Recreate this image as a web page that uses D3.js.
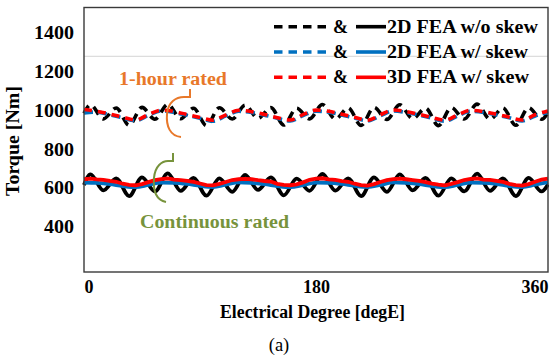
<!DOCTYPE html>
<html><head><meta charset="utf-8">
<script src="https://cdn.jsdelivr.net/npm/d3@7"></script>
<style>
html,body{margin:0;padding:0;background:#fff;}
svg{display:block;font-family:"Liberation Serif","Times New Roman",serif;}
</style></head>
<body><svg id="c" width="549" height="359"></svg>
<script>
// ---- data ----
const xTicks = [0, 180, 360];
const yTicks = [400, 600, 800, 1000, 1200, 1400];
const refLine = 1280;

// 2D FEA w/o skew (black) sample angles
const degBlack = [0,5,15,25,35,45,55,65,75,85,95,105,115,125,135,145,155,165,175,185,195,205,215,225,235,245,255,265,275,285,295,305,315,325,335,345,355,360];
const blackUpper = [985,1030,957,1013,924,1016,955,1032,958,1012,922,1014,956,1028,960,1015,925,1012,957,1031,956,1013,923,1016,954,1030,958,1012,922,1015,956,1033,955,1013,924,1014,955,990];
const blackLower = [615,670,588,650,558,655,582,675,585,652,560,650,580,668,590,655,562,648,585,672,586,650,558,655,580,670,588,652,560,650,582,674,585,650,558,652,582,618];

// 2D FEA w/ skew (blue), 10 deg steps
const deg10 = d3.range(0, 361, 10);
const blueUpper = [988,992,978,962,948,975,998,990,975,960,945,972,996,990,976,960,946,974,997,991,977,961,947,973,998,990,976,960,945,972,996,990,977,962,946,972,990];
const blueLower = [628,626,620,610,604,616,628,627,621,611,605,617,629,626,620,610,604,615,628,627,621,611,605,616,629,626,620,610,604,616,628,627,621,610,605,617,630];

// 3D FEA w/ skew (red)
const redUpper = [1005,996,982,966,951,979,1002,995,979,964,950,977,1001,994,980,963,951,979,1002,996,981,965,950,978,1003,995,980,964,950,977,1001,994,981,965,951,978,998];
const deg5 = d3.range(0, 361, 5);
const redLower = [645,648,644,642,636,632,622,616,614,620,630,640,
                  646,649,643,641,637,631,623,615,613,621,631,641,
                  645,647,645,640,636,633,621,616,614,619,629,642,
                  648,650,644,642,635,632,622,615,612,620,631,640,
                  646,648,645,641,636,630,622,617,613,621,630,641,
                  647,649,643,642,637,631,621,615,612,620,632,643,648];

const legendItems = [
  {label: "2D FEA w/o skew", color: "#000000", w: 151},
  {label: "2D FEA w/ skew", color: "#0070C0", w: 141},
  {label: "3D FEA w/ skew", color: "#FF0000", w: 142}
];

// ---- chart ----
const svg = d3.select("#c");
const L = 84, R = 548, T = 7.5, B = 272;
const FS = 18;
const x = d3.scaleLinear().domain([0, 360]).range([L, R]);
const y = d3.scaleLinear().domain([166, 1532]).range([B, T]);

const stretch = (sel, w) => sel.attr("textLength", w).attr("lengthAdjust", "spacingAndGlyphs");

// reference gray line
svg.append("line").attr("x1", L).attr("x2", R).attr("y1", y(refLine)).attr("y2", y(refLine))
  .attr("stroke", "#d4d4d4").attr("stroke-width", 1);

const line = d3.line().x(d => x(d[0])).y(d => y(d[1])).curve(d3.curveMonotoneX);
const zip = (a, b) => a.map((v, i) => [v, b[i]]);

const g = svg.append("g");
// upper (dashed)
g.append("path").attr("d", line(zip(degBlack, blackUpper))).attr("fill", "none")
  .attr("stroke", "#000").attr("stroke-width", 3.6).attr("stroke-dasharray", "9,6");
g.append("path").attr("d", line(zip(deg10, blueUpper))).attr("fill", "none")
  .attr("stroke", "#0070C0").attr("stroke-width", 3.6).attr("stroke-dasharray", "9,5");
g.append("path").attr("d", line(zip(deg10, redUpper))).attr("fill", "none")
  .attr("stroke", "#FF0000").attr("stroke-width", 3.6).attr("stroke-dasharray", "8,6");
// lower (solid)
g.append("path").attr("d", line(zip(degBlack, blackLower))).attr("fill", "none")
  .attr("stroke", "#000").attr("stroke-width", 3.8);
g.append("path").attr("d", line(zip(deg10, blueLower))).attr("fill", "none")
  .attr("stroke", "#0070C0").attr("stroke-width", 3.8);
g.append("path").attr("d", d3.line().x(d => x(d[0])).y(d => y(d[1]))(zip(deg5, redLower))).attr("fill", "none")
  .attr("stroke", "#FF0000").attr("stroke-width", 3.8);

// frame
svg.append("rect").attr("x", L).attr("y", T).attr("width", R - L).attr("height", B - T)
  .attr("fill", "none").attr("stroke", "#3a3a3a").attr("stroke-width", 1.4);

// axes
const xa = svg.append("g").attr("transform", `translate(0,${B})`)
  .call(d3.axisBottom(x).tickValues(xTicks).tickSize(0).tickPadding(8).tickFormat(d3.format("d")));
xa.select(".domain").remove();
xa.selectAll("text").attr("font-size", FS).attr("font-weight", "bold").attr("fill", "#000")
  .attr("font-family", "Liberation Serif")
  .attr("text-anchor", (d, i) => i === 0 ? "start" : (i === xTicks.length - 1 ? "end" : "middle"));

const ya = svg.append("g").attr("transform", `translate(${L},0)`)
  .call(d3.axisLeft(y).tickValues(yTicks).tickSize(0).tickPadding(10).tickFormat(d3.format("d")));
ya.select(".domain").remove();
ya.selectAll("text").attr("font-size", FS).attr("font-weight", "bold").attr("fill", "#000")
  .attr("font-family", "Liberation Serif")
  .attr("textLength", d => String(d).length * 10).attr("lengthAdjust", "spacingAndGlyphs");

// axis titles
stretch(svg.append("text").attr("x", 312.5).attr("y", 318).attr("text-anchor", "middle")
  .attr("font-size", FS).attr("font-weight", "bold").text("Electrical Degree [degE]"), 185);
stretch(svg.append("text").attr("transform", "translate(19,141) rotate(-90)").attr("text-anchor", "middle")
  .attr("font-size", FS).attr("font-weight", "bold").text("Torque [Nm]"), 110);
svg.append("text").attr("x", 279).attr("y", 351).attr("text-anchor", "middle")
  .attr("font-size", 18.5).text("(a)");

// legend
const lg = svg.append("g");
legendItems.forEach((it, i) => {
  const cy = 26.7 + i * 25.3;
  lg.append("line").attr("x1", 274).attr("x2", 326).attr("y1", cy).attr("y2", cy)
    .attr("stroke", it.color).attr("stroke-width", 3.6).attr("stroke-dasharray", "8.5,6");
  stretch(lg.append("text").attr("x", 333).attr("y", cy + 6)
    .attr("font-size", FS).attr("font-weight", "bold").text("&"), 15);
  lg.append("line").attr("x1", 356).attr("x2", 386).attr("y1", cy).attr("y2", cy)
    .attr("stroke", it.color).attr("stroke-width", 3.6);
  stretch(lg.append("text").attr("x", 387).attr("y", cy + 6)
    .attr("font-size", FS).attr("font-weight", "bold").text(it.label), it.w);
});

// annotations
stretch(svg.append("text").attr("x", 119).attr("y", 85)
  .attr("font-size", FS).attr("font-weight", "bold").attr("fill", "#E8782A").text("1-hour rated"), 108);
stretch(svg.append("text").attr("x", 140).attr("y", 228)
  .attr("font-size", FS).attr("font-weight", "bold").attr("fill", "#77933C").text("Continuous rated"), 149);

svg.append("path").attr("d", "M181,137 C170,136 166,126 167,114 C168,102 176,97 184,97 L190,97 L190,89")
  .attr("fill", "none").attr("stroke", "#E8782A").attr("stroke-width", 2);
svg.append("path").attr("d", "M166,202 C156,200 153,190 154,178 C155,166 162,161 168,161 L173,161 L173,153")
  .attr("fill", "none").attr("stroke", "#77933C").attr("stroke-width", 2);
</script></body></html>
